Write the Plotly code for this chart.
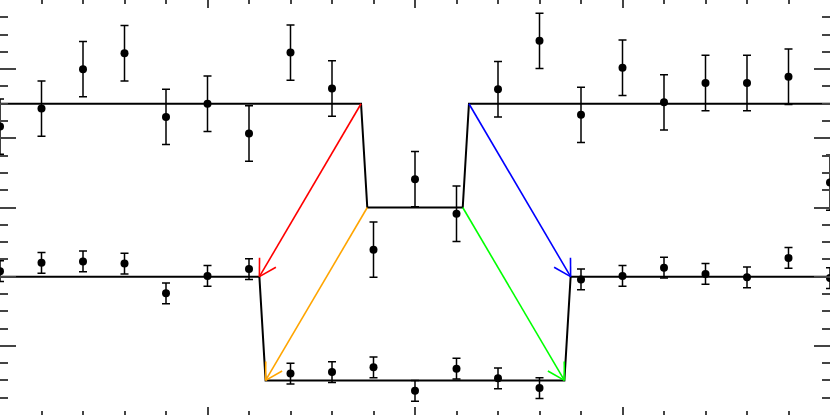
import numpy as np
import plotly.graph_objects as go

# time index of each exposure
x_obs = list(range(21))

# upper light curve (large errors)
top_flux = [4.17, 4.43, 5.00, 5.23, 4.31, 4.50, 4.07, 5.24, 4.72, 2.39, 3.41,
            2.91, 4.71, 5.41, 4.34, 5.02, 4.52, 4.80, 4.80, 4.89, 3.36]
top_err = 0.40

# lower light curve (small errors)
bot_flux = [2.08, 2.20, 2.22, 2.19, 1.76, 2.01, 2.11, 0.60, 0.62, 0.69, 0.35,
            0.67, 0.53, 0.39, 1.96, 2.01, 2.13, 2.04, 1.99, 2.27, 1.98]
bot_err = 0.15

# trapezoid transit models
top_model_x = [0, 8.7, 8.85, 11.15, 11.3, 20]
top_model_y = [4.5, 4.5, 3.0, 3.0, 4.5, 4.5]
bot_model_x = [0, 6.25, 6.4, 13.6, 13.75, 20]
bot_model_y = [2.0, 2.0, 0.5, 0.5, 2.0, 2.0]

# arrows join contact points 1-4 of the upper model to the lower one
arrow_colors = ["red", "orange", "lime", "blue"]

W, H = 830, 415
XR, YR = (0, 20), (0, 6)
sx = W / (XR[1] - XR[0])
sy = H / (YR[1] - YR[0])

fig = go.Figure()

for mx, my in [(top_model_x, top_model_y), (bot_model_x, bot_model_y)]:
    fig.add_trace(go.Scatter(x=mx, y=my, mode="lines",
                             line=dict(color="black", width=2), hoverinfo="skip"))

for k, col in zip(range(1, 5), arrow_colors):
    x0, y0 = top_model_x[k], top_model_y[k]
    x1, y1 = bot_model_x[k], bot_model_y[k]
    # arrowhead arms in pixel space
    dx, dy = (x0 - x1) * sx, (y0 - y1) * sy
    n = np.hypot(dx, dy)
    ux, uy = dx / n, dy / n
    xs, ys = [x0, x1, None], [y0, y1, None]
    for a in (np.radians(30), -np.radians(30)):
        rx = ux * np.cos(a) - uy * np.sin(a)
        ry = ux * np.sin(a) + uy * np.cos(a)
        xs += [x1, x1 + rx * 19 / sx, None]
        ys += [y1, y1 + ry * 19 / sy, None]
    fig.add_trace(go.Scatter(x=xs, y=ys, mode="lines",
                             line=dict(color=col, width=1.6), hoverinfo="skip"))

for flux, err in [(top_flux, top_err), (bot_flux, bot_err)]:
    fig.add_trace(go.Scatter(
        x=x_obs, y=flux, mode="markers",
        marker=dict(color="black", size=8),
        error_y=dict(type="constant", value=err, color="black",
                     thickness=1.5, width=4),
    ))

axis_common = dict(showgrid=False, zeroline=False, showticklabels=False,
                   showline=True, linecolor="#444", linewidth=1.5,
                   ticks="inside", tickcolor="#444", mirror="allticks")

fig.update_xaxes(range=list(XR), dtick=5, ticklen=8, tickwidth=1.5,
                 minor=dict(dtick=1, ticks="inside", ticklen=4, tickcolor="#444"),
                 **axis_common)
fig.update_yaxes(range=list(YR), dtick=1, ticklen=16, tickwidth=1.5,
                 minor=dict(dtick=0.25, ticks="inside", ticklen=8, tickcolor="#444"),
                 **axis_common)

fig.update_layout(width=W, height=H,
                  margin=dict(l=0, r=0, t=0, b=0, pad=0, autoexpand=False),
                  showlegend=False, plot_bgcolor="white", paper_bgcolor="white")

# drop the default page margin so the plot fills the window
fig.write_html("out.html", config={"displayModeBar": False},
               post_script="document.body.style.margin='0';"
                           "document.body.style.overflow='hidden';")
